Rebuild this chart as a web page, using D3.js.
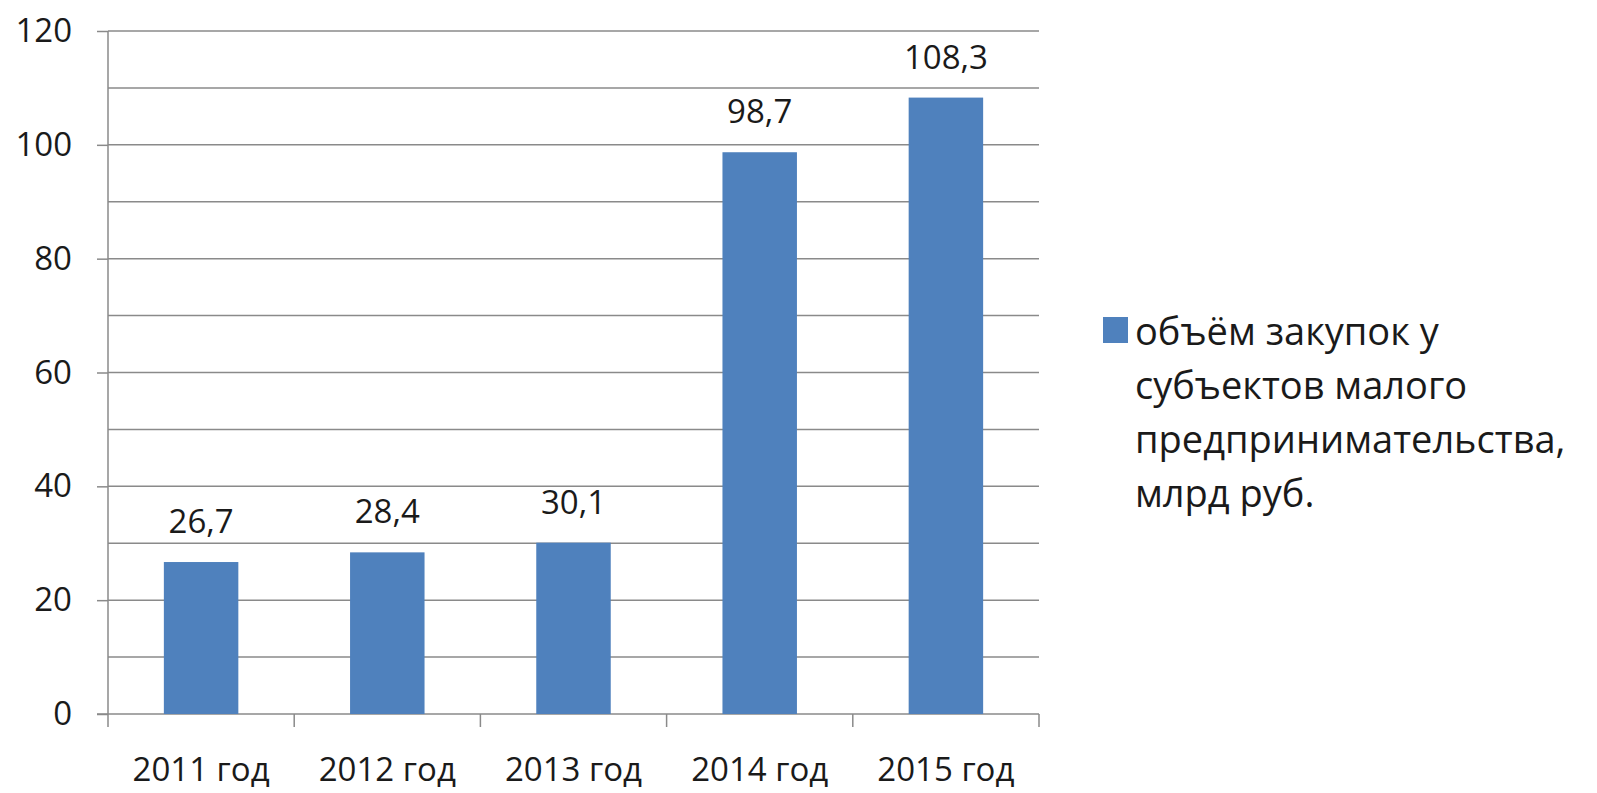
<!DOCTYPE html>
<html>
<head>
<meta charset="utf-8">
<script src="https://cdn.jsdelivr.net/npm/d3@7"></script>
<style>
  body { margin: 0; background: #fff; }
  text { font-family: "Open Sans", sans-serif; fill: #1a1a1a; }
</style>
</head>
<body>
<div id="chart"></div>
<script>
// data
var years = ["2011 год", "2012 год", "2013 год", "2014 год", "2015 год"];
var values = [26.7, 28.4, 30.1, 98.7, 108.3];
var valueLabels = ["26,7", "28,4", "30,1", "98,7", "108,3"];
var yTicks = [0, 20, 40, 60, 80, 100, 120];
var gridValues = [10, 20, 30, 40, 50, 60, 70, 80, 90, 100, 110, 120];
var legendLines = ["объём закупок у", "субъектов малого", "предпринимательства,", "млрд руб."];

var margin = { top: 31, right: 558, bottom: 79, left: 108 },
  width = 1597 - margin.left - margin.right,
  height = 793 - margin.top - margin.bottom;

var svg = d3
  .select("#chart")
  .append("svg")
  .attr("width", 1597)
  .attr("height", 793)
  .append("g")
  .attr("transform", "translate(" + margin.left + "," + margin.top + ")");

var x = d3.scaleBand().range([0, width]).domain(years).paddingInner(0.6).paddingOuter(0.3);
var y = d3.scaleLinear().range([height, 0]).domain([0, 120]);

var gridColor = "#8a8a8a";

// gridlines every 10
svg.selectAll(".grid")
  .data(gridValues)
  .enter()
  .append("line")
  .attr("x1", 0)
  .attr("x2", width)
  .attr("y1", function (d) { return y(d); })
  .attr("y2", function (d) { return y(d); })
  .style("stroke", gridColor)
  .style("stroke-width", 1.5);

// y axis
var yAxis = svg.append("g")
  .call(d3.axisLeft(y).tickValues(yTicks).tickSize(11).tickPadding(25).tickFormat(d3.format("d")));
yAxis.selectAll("line").style("stroke", gridColor).style("stroke-width", 1.5);
yAxis.select(".domain").style("stroke", gridColor).style("stroke-width", 1.5).attr("d", "M0," + height + "V0");
yAxis.selectAll("text").style("font-size", "33px").style("font-family", "'Open Sans', sans-serif").attr("fill", "#1a1a1a");

// x axis with ticks between categories
var xAxis = svg.append("g").attr("transform", "translate(0," + height + ")");
xAxis.append("line")
  .attr("x1", -11).attr("x2", width)
  .style("stroke", gridColor).style("stroke-width", 1.5);
var step = x.step();
xAxis.selectAll(".xt")
  .data(d3.range(years.length + 1))
  .enter()
  .append("line")
  .attr("x1", function (i) { return i * step; })
  .attr("x2", function (i) { return i * step; })
  .attr("y1", 0)
  .attr("y2", 13)
  .style("stroke", gridColor).style("stroke-width", 1.5);
xAxis.selectAll(".xl")
  .data(years)
  .enter()
  .append("text")
  .attr("x", function (d) { return x(d) + x.bandwidth() / 2; })
  .attr("y", 67)
  .attr("text-anchor", "middle")
  .style("font-size", "33px")
  .text(function (d) { return d; });

// bars
svg.selectAll(".bar")
  .data(values)
  .enter()
  .append("rect")
  .attr("x", function (d, i) { return x(years[i]); })
  .attr("y", function (d) { return y(d); })
  .attr("width", x.bandwidth())
  .attr("height", function (d) { return height - y(d); })
  .style("fill", "#4f81bd");

// value labels
svg.selectAll(".vl")
  .data(values)
  .enter()
  .append("text")
  .attr("x", function (d, i) { return x(years[i]) + x.bandwidth() / 2; })
  .attr("y", function (d) { return y(d) - 29; })
  .attr("text-anchor", "middle")
  .style("font-size", "33px")
  .text(function (d, i) { return valueLabels[i]; });

// legend
var legend = svg.append("g").attr("transform", "translate(" + (1103 - margin.left) + "," + (317 - margin.top) + ")");
legend.append("rect")
  .attr("width", 25)
  .attr("height", 26)
  .style("fill", "#4f81bd");
legend.selectAll("text")
  .data(legendLines)
  .enter()
  .append("text")
  .attr("x", 32)
  .attr("y", function (d, i) { return 28 + i * 54; })
  .style("font-size", "38px")
  .text(function (d) { return d; });
</script>
</body>
</html>
